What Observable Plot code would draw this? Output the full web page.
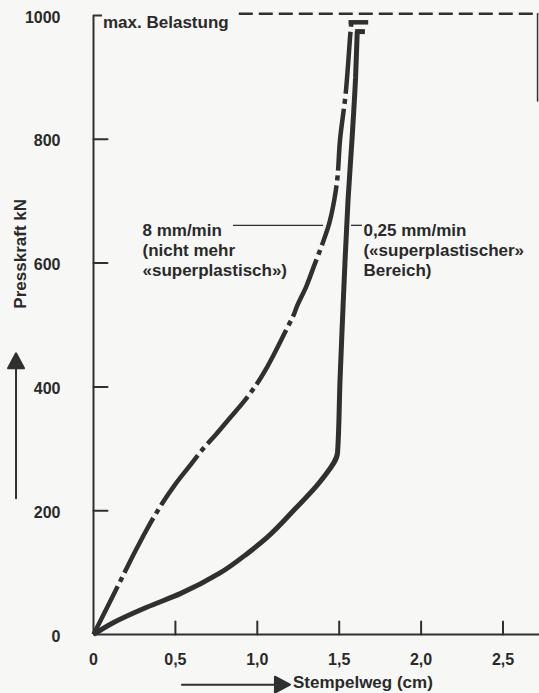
<!DOCTYPE html>
<html>
<head>
<meta charset="utf-8">
<script src="https://cdn.jsdelivr.net/npm/d3@7"></script>
<script src="https://cdn.jsdelivr.net/npm/@observablehq/plot@0.6"></script>
<style>
  html, body { margin: 0; padding: 0; background: #f7f7f5; }
  #chart svg { display: block; }
</style>
</head>
<body>
<div id="chart"></div>
<script>
// ---- data ----
// 0,25 mm/min ("superplastischer" Bereich)
const slowX = [0, 0.12, 0.325, 0.53, 0.77, 0.94, 1.06, 1.22, 1.39, 1.49, 1.505, 1.52, 1.535, 1.554, 1.578, 1.60, 1.61];
const slowY = [0, 19, 44, 66, 99, 131, 157, 200, 249, 294, 411, 508, 600, 702, 799, 900, 974];
const slowEndX = 1.66;
// 8 mm/min (nicht mehr "superplastisch")
const fastX = [0, 0.08, 0.165, 0.25, 0.33, 0.42, 0.50, 0.58, 0.66, 0.75, 0.83, 0.92, 1.00, 1.06, 1.12, 1.18, 1.22, 1.245, 1.30, 1.35, 1.40, 1.44, 1.47, 1.49, 1.505, 1.54, 1.57, 1.575];
const fastY = [0, 42, 87, 132, 172, 212, 243, 270, 297, 324, 349, 377, 406, 432, 462, 494, 515, 532, 563, 598, 633, 665, 702, 740, 799, 875, 977, 989];
const fastEndX = 1.68;
const xTickValues = [0, 0.5, 1.0, 1.5, 2.0, 2.5];
const xTickLabels = ["0", "0,5", "1,0", "1,5", "2,0", "2,5"];
const yTickValues = [0, 200, 400, 600, 800, 1000];
const yTickLabels = ["0", "200", "400", "600", "800", "1000"];
const maxLoad = 1000;
const labelFast = "8 mm/min\n(nicht mehr\n«superplastisch»)";
const labelSlow = "0,25 mm/min\n(«superplastischer»\nBereich)";
const labelMax = "max. Belastung";
const xTitle = "Stempelweg (cm)";
const yTitle = "Presskraft kN";

// ---- build ----
const slow = slowX.map((x, i) => ({x, y: slowY[i]}));
const fast = fastX.map((x, i) => ({x, y: fastY[i]}));
const ink = "#303030";
const xMax = (539 - 93) / 163.8;
const tickShape = {draw(ctx, l) { ctx.moveTo(0, 0); ctx.lineTo(0, -l); }};
const arrowShape = {draw(ctx, l) {
  const h = 15, w = 8;
  ctx.moveTo(0, 0); ctx.lineTo(0, -l + h);
  ctx.moveTo(-w, -l + h); ctx.lineTo(0, -l); ctx.lineTo(w, -l + h); ctx.closePath();
}};
const font = {fontSize: 17, fontWeight: "bold", fill: "#2a2a2a"};
const tickFont = {fontSize: 16, fontWeight: "bold", fill: "#2a2a2a"};

const chart = Plot.plot({
  width: 539,
  height: 693,
  marginLeft: 93,
  marginRight: 0,
  marginTop: 15,
  marginBottom: 59,
  x: {domain: [0, xMax], axis: null},
  y: {domain: [0, 1000], axis: null},
  style: {background: "#f7f7f5", fontFamily: "'Liberation Sans', Arial, Helvetica, sans-serif", color: ink},
  marks: [
    // axis lines
    Plot.ruleX([0], {y1: 0, y2: maxLoad, stroke: ink, strokeWidth: 2}),
    Plot.ruleY([maxLoad], {x1: 0, x2: 0.055, stroke: ink, strokeWidth: 2}),
    Plot.ruleY([0], {x1: 0, x2: xMax, stroke: ink, strokeWidth: 2}),
    // inward ticks
    Plot.vector(yTickValues.slice(1, -1), {x: d => 0, y: d => d, length: 14, rotate: 90, anchor: "start", shape: tickShape, stroke: ink, strokeWidth: 2}),
    Plot.vector(xTickValues.slice(1), {x: d => d, y: d => 0, length: 13, rotate: 0, anchor: "start", shape: tickShape, stroke: ink, strokeWidth: 2}),
    // tick labels
    Plot.text(xTickValues, {x: d => d, y: d => 0, text: (d, i) => xTickLabels[i], textAnchor: "middle", lineAnchor: "top", dy: 19, ...tickFont}),
    Plot.text(yTickValues, {x: d => 0, y: d => d, text: (d, i) => yTickLabels[i], textAnchor: "end", lineAnchor: "middle", dx: -33, dy: 2, ...tickFont}),
    // max load
    Plot.ruleY([maxLoad + 3], {x1: 0.89, x2: xMax, stroke: ink, strokeWidth: 2.5, strokeDasharray: "14,6"}),
    Plot.ruleX([2.711], {y1: maxLoad + 3, y2: 860, stroke: ink, strokeWidth: 1.5}),
    Plot.text([labelMax], {x: 0.058, y: maxLoad, text: d => d, textAnchor: "start", lineAnchor: "top", ...font}),
    // curves
    Plot.line(slow, {x: "x", y: "y", curve: "monotone-y", stroke: ink, strokeWidth: 5, strokeLinejoin: "miter", strokeLinecap: "butt"}),
    Plot.ruleY([slowY[slowY.length - 1]], {x1: slowX[slowX.length - 1] - 0.01, x2: slowEndX, stroke: ink, strokeWidth: 5}),
    Plot.line(fast, {x: "x", y: "y", curve: "catmull-rom", stroke: ink, strokeWidth: 4.5, strokeLinecap: "butt", strokeDasharray: "62,5,5,5", strokeDashoffset: 8}),
    Plot.ruleY([fastY[fastY.length - 1]], {x1: fastX[fastX.length - 1] - 0.015, x2: fastEndX, stroke: ink, strokeWidth: 4.5}),
    // leaders & labels
    Plot.ruleY([661], {x1: 0.855, x2: 1.404, stroke: ink, strokeWidth: 1.3}),
    Plot.ruleY([661], {x1: 1.575, x2: 1.642, stroke: ink, strokeWidth: 1.3}),
    Plot.text([labelFast], {x: 0.299, y: 667, text: d => d, textAnchor: "start", lineAnchor: "top", lineHeight: 1.18, ...font}),
    Plot.text([labelSlow], {x: 1.648, y: 667, text: d => d, textAnchor: "start", lineAnchor: "top", lineHeight: 1.18, ...font}),
    // axis titles with arrows
    Plot.text([yTitle], {x: -0.443, y: 615, text: d => d, rotate: -90, textAnchor: "middle", lineAnchor: "middle", ...font}),
    Plot.vector([0], {x: d => -0.473, y: d => 220, length: 145, rotate: 0, anchor: "start", shape: arrowShape, stroke: ink, fill: ink, strokeWidth: 2}),
    Plot.text([xTitle], {x: 1.218, y: -78, text: d => d, textAnchor: "start", lineAnchor: "middle", ...font}),
    Plot.vector([0], {x: d => 0.54, y: d => -81, length: 108, rotate: 90, anchor: "start", shape: arrowShape, stroke: ink, fill: ink, strokeWidth: 2})
  ]
});
document.getElementById("chart").append(chart);
</script>
</body>
</html>
